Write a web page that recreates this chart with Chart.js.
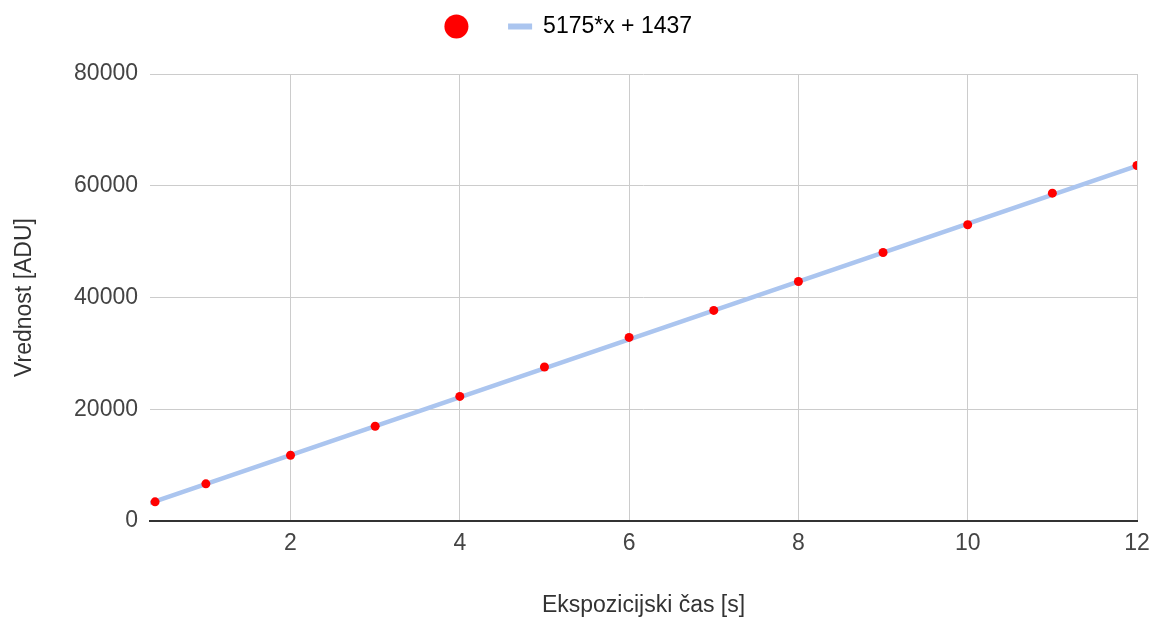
<!DOCTYPE html>
<html>
<head>
<meta charset="utf-8">
<script src="https://cdn.jsdelivr.net/npm/chart.js@4/dist/chart.umd.min.js"></script>
<style>
  html, body { margin: 0; padding: 0; background: #fff; }
  #wrap { width: 1156px; height: 621px; }
</style>
</head>
<body>
<div id="wrap"><canvas id="my-chart"></canvas></div>
<script>
// exposure time [s] and measured value [ADU]
const exposure = [0.4, 1, 2, 3, 4, 5, 6, 7, 8, 9, 10, 11, 12];
const adu = [3430, 6650, 11770, 16950, 22300, 27570, 32860, 37690, 42870, 48060, 53010, 58680, 63620];

// trendline end points as drawn
const trendX = [0.34, 12];
const trendY = [3200, 63540];
const trendLabel = '5175*x + 1437';

const xTicks = [2, 4, 6, 8, 10, 12];
const yTicks = [0, 20000, 40000, 60000, 80000];

const fontFamily = "'Liberation Sans', Arial, sans-serif";
const trendColor = '#abc5ef';

// push plot area down below the legend
const legendMargin = {
  id: 'legendMargin',
  beforeLayout(chart) {
    const legend = chart.legend;
    if (!legend || legend._marginPatched) return;
    const fit = legend.fit;
    legend.fit = function() {
      fit.call(this);
      this.height += 26;
    };
    legend._marginPatched = true;
  }
};

const ctx = document.getElementById('my-chart');
const myChart = new Chart(ctx, {
  type: 'scatter',
  plugins: [legendMargin],
  data: {
    datasets: [{
      label: '',
      data: exposure.map((x, i) => ({ x: x, y: adu[i] })),
      backgroundColor: '#ff0000',
      borderWidth: 0,
      pointRadius: 4.5,
      pointHoverRadius: 4.5
    }, {
      type: 'line',
      label: trendLabel,
      data: trendX.map((x, i) => ({ x: x, y: trendY[i] })),
      borderColor: trendColor,
      borderWidth: 4.5,
      pointRadius: 0,
      fill: false
    }]
  },
  options: {
    responsive: true,
    maintainAspectRatio: false,
    animation: false,
    layout: { padding: { top: 5, right: 19, bottom: 0, left: 0 } },
    plugins: {
      tooltip: { enabled: false },
      legend: {
        position: 'top',
        labels: {
          usePointStyle: true,
          boxHeight: 17,
          padding: 10,
          color: '#444',
          font: { family: fontFamily, size: 23 },
          generateLabels: chart => [{
            text: '   ',
            fillStyle: '#ff0000',
            strokeStyle: '#ff0000',
            lineWidth: 0,
            pointStyle: 'circle',
            datasetIndex: 0
          }, {
            text: trendLabel,
            fillStyle: trendColor,
            strokeStyle: trendColor,
            lineWidth: 6,
            pointStyle: 'line',
            datasetIndex: 1
          }]
        }
      }
    },
    scales: {
      x: {
        type: 'linear',
        min: 0.34,
        max: 12,
        afterBuildTicks: scale => {
          scale.ticks = xTicks.map(v => ({ value: v }));
        },
        afterFit: scale => {
          scale.height = 100;
          scale.paddingRight = 0;
          scale.paddingLeft = 0;
        },
        grid: { color: '#cccccc', lineWidth: 1, drawTicks: false },
        border: { display: true, color: '#333', width: 2 },
        ticks: {
          padding: 9,
          color: '#444',
          font: { family: fontFamily, size: 23 },
          callback: v => String(v)
        },
        title: {
          display: true,
          text: 'Ekspozicijski čas [s]',
          color: '#333',
          padding: { top: 0, bottom: 2 },
          font: { family: fontFamily, size: 23 }
        }
      },
      y: {
        min: 0,
        max: 80000,
        afterBuildTicks: scale => {
          scale.ticks = yTicks.map(v => ({ value: v }));
        },
        afterFit: scale => { scale.width = 150; },
        grid: { color: '#cccccc', lineWidth: 1, drawTicks: false },
        border: { display: false },
        ticks: {
          padding: 12,
          color: '#444',
          font: { family: fontFamily, size: 23 },
          callback: v => String(v)
        },
        title: {
          display: true,
          text: 'Vrednost [ADU]',
          color: '#333',
          padding: { top: 11, bottom: 0 },
          font: { family: fontFamily, size: 23 }
        }
      }
    }
  }
});
</script>
</body>
</html>
